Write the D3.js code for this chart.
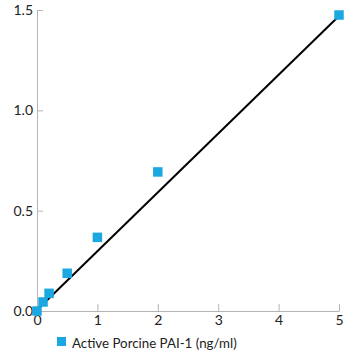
<!DOCTYPE html>
<html><head><meta charset="utf-8">
<script src="https://cdn.jsdelivr.net/npm/d3@7"></script>
<style>html,body{margin:0;padding:0;background:#fff;}svg{display:block;}</style>
</head><body>
<svg id="c" width="360" height="360"></svg>
<script>
const concentrations = [0, 0.1, 0.2, 0.5, 1, 2, 5];
const absorbance = [0.0, 0.045, 0.088, 0.188, 0.367, 0.693, 1.475];
const fitX = [0, 5];
const fitY = [0.005, 1.47];
const xTicks = [0, 1, 2, 3, 4, 5];
const yTicks = [0, 0.5, 1.0, 1.5];
const seriesName = "Active Porcine PAI-1 (ng/ml)";

const svg = d3.select("#c");
const font = "Lato, 'Open Sans', sans-serif";
const x = d3.scaleLinear().domain([0, 5]).range([37, 339]);
const y = d3.scaleLinear().domain([0, 1.5]).range([311, 10]);
const axisColor = "#b5b5b5";

const xa = svg.append("g").attr("transform", "translate(0,311)")
  .call(d3.axisBottom(x).tickValues(xTicks).tickFormat(d3.format("d")).tickSizeInner(-7).tickSizeOuter(0).tickPadding(4));
const ya = svg.append("g").attr("transform", "translate(37,0)")
  .call(d3.axisLeft(y).tickValues(yTicks).tickFormat(d3.format(".1f")).tickSizeInner(-6).tickSizeOuter(0).tickPadding(4));
[xa, ya].forEach(a => {
  a.select(".domain").attr("stroke", axisColor);
  a.selectAll(".tick line").attr("stroke", axisColor);
  a.selectAll(".tick text").attr("fill", "#222").style("font-family", font).style("font-size", "14px");
});
ya.selectAll(".tick text").attr("x", -4);
xa.selectAll(".tick text").attr("dy", "0.71em").attr("y", 4);

svg.append("path")
  .datum(fitX.map((d, i) => [d, fitY[i]]))
  .attr("d", d3.line().x(d => x(d[0])).y(d => y(d[1])))
  .attr("stroke", "#000").attr("stroke-width", 2).attr("fill", "none");

const s = 9.5;
svg.append("g").selectAll("rect").data(concentrations).join("rect")
  .attr("x", (d) => x(d) - s / 2)
  .attr("y", (d, i) => y(absorbance[i]) - s / 2)
  .attr("width", s).attr("height", s)
  .attr("fill", "#1ba8e0");

const lg = svg.append("g");
lg.append("rect").attr("x", 57).attr("y", 337).attr("width", 9).attr("height", 9).attr("fill", "#1ba8e0");
lg.append("text").attr("x", 72).attr("y", 348).text(seriesName)
  .attr("fill", "#222").style("font-family", font).style("font-size", "13.3px");
</script>
</body></html>
